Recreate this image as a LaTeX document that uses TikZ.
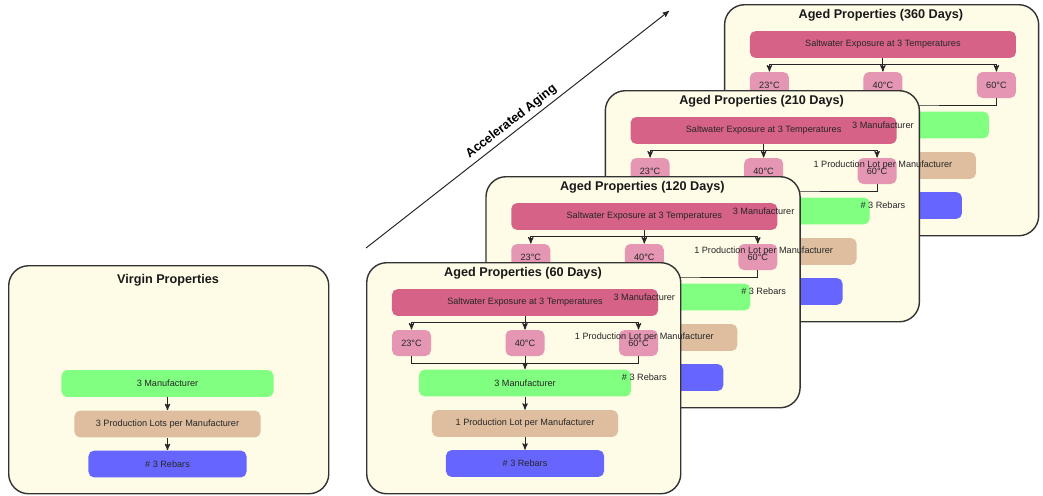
\documentclass[tikz,border=0pt]{standalone}
\usepackage{fontspec}
\setmainfont{Liberation Sans}
\usetikzlibrary{arrows,calc}

\definecolor{cream}{RGB}{254,251,231}
\definecolor{saltpink}{RGB}{214,98,136}
\definecolor{temppink}{RGB}{228,150,178}
\definecolor{makergreen}{RGB}{128,255,128}
\definecolor{lottan}{RGB}{222,190,158}
\definecolor{rebarblue}{RGB}{102,102,255}

\pgfdeclarelayer{front}
\pgfsetlayers{main,front}

\begin{document}
\begin{tikzpicture}[x=0.025cm,y=-0.025cm,>=stealth',semithick]
  \tikzstyle{panel}=[draw=black!80,line width=1pt,fill=cream,rounded corners=0.5cm,anchor=north west,inner sep=0pt,minimum width=7.85cm,minimum height=5.775cm]
  \tikzstyle{paneltitle}=[font=\fontsize{9}{11}\selectfont\bfseries,text=black!90]
  \tikzstyle{boxtext}=[font=\fontsize{6.5}{8}\selectfont,text=black!85]
  \tikzstyle{box}=[boxtext,rounded corners=4pt,inner sep=0pt,minimum height=0.67cm]
  \tikzstyle{saltbox}=[box,fill=saltpink,minimum width=6.65cm]
  \tikzstyle{tempbox}=[box,fill=temppink,minimum width=0.975cm,minimum height=0.65cm]
  \tikzstyle{makerbox}=[box,fill=makergreen,minimum width=5.3cm]
  \tikzstyle{lotbox}=[box,fill=lottan,minimum width=4.65cm]
  \tikzstyle{rebarbox}=[box,fill=rebarblue,minimum width=3.95cm]
  \tikzstyle{wire}=[draw=black!85,line width=0.7pt]

  \useasboundingbox (0,0) rectangle (1043,495);

  % virgin properties
  \begin{scope}[shift={(8,265)}]
    \node[panel,minimum width=8cm,minimum height=5.7cm] (virgin) at (0,0) {};
    \node[paneltitle] (virgintitle) at (160,15) {Virgin Properties};
    \node[makerbox] (maker0) at (159.5,118.5) {3 Manufacturer};
    \node[lotbox] (lot0) at (159.5,159) {3 Production Lots per Manufacturer};
    \node[rebarbox] (rebar0) at (159.5,199) {\# 3 Rebars};
    \draw[wire,->] (maker0) -- (lot0);
    \draw[wire,->] (lot0) -- (rebar0);
  \end{scope}

  % aged panels, back to front
  \foreach \days/\i in {360/3,210/2,120/1,60/0}{
    \begin{scope}[shift={(366+119.3*\i,262-86*\i)}]
      \node[panel] (aged\days) at (0,0) {};
      \node[paneltitle] (title\days) at (157,11) {Aged Properties (\days\ Days)};
      \node[saltbox] (salt\days) at (159,40.5) {Saltwater Exposure at 3 Temperatures};
      \node[tempbox] (lo\days) at (45.5,81) {23°C};
      \node[tempbox] (mid\days) at (159,81) {40°C};
      \node[tempbox] (hi\days) at (272.5,81) {60°C};
      \node[makerbox] (maker\days) at (159,121) {};
      \node[lotbox] (lot\days) at (159,161.5) {};
      \node[rebarbox] (rebar\days) at (159,201.5) {};
      \coordinate (split\days) at (159,60.5);
      \coordinate (join\days) at (159,101);
      \draw[wire,->] (salt\days) -- (mid\days);
      \draw[wire,->] (split\days) -| (lo\days);
      \draw[wire,->] (split\days) -| (hi\days);
      \draw[wire] (lo\days) |- (join\days) -| (hi\days);
      \draw[wire,->] (mid\days) -- (maker\days);
      \draw[wire,->] (maker\days) -- (lot\days);
      \draw[wire,->] (lot\days) -- (rebar\days);
      % these labels end up above every panel
      \begin{pgfonlayer}{front}
        \node[boxtext] (makertext\days) at (maker\days) {3 Manufacturer};
        \node[boxtext] (lottext\days) at (lot\days) {1 Production Lot per Manufacturer};
        \node[boxtext] (rebartext\days) at (rebar\days) {\# 3 Rebars};
      \end{pgfonlayer}
    \end{scope}
  }

  % time axis
  \coordinate (agestart) at (366,248);
  \coordinate (ageend) at (669,11);
  \draw[wire,->] (agestart) -- node[sloped,above,pos=0.5,inner sep=2.5pt,font=\fontsize{9}{11}\selectfont\bfseries] (agelabel) {Accelerated Aging} (ageend);
\end{tikzpicture}
\end{document}
